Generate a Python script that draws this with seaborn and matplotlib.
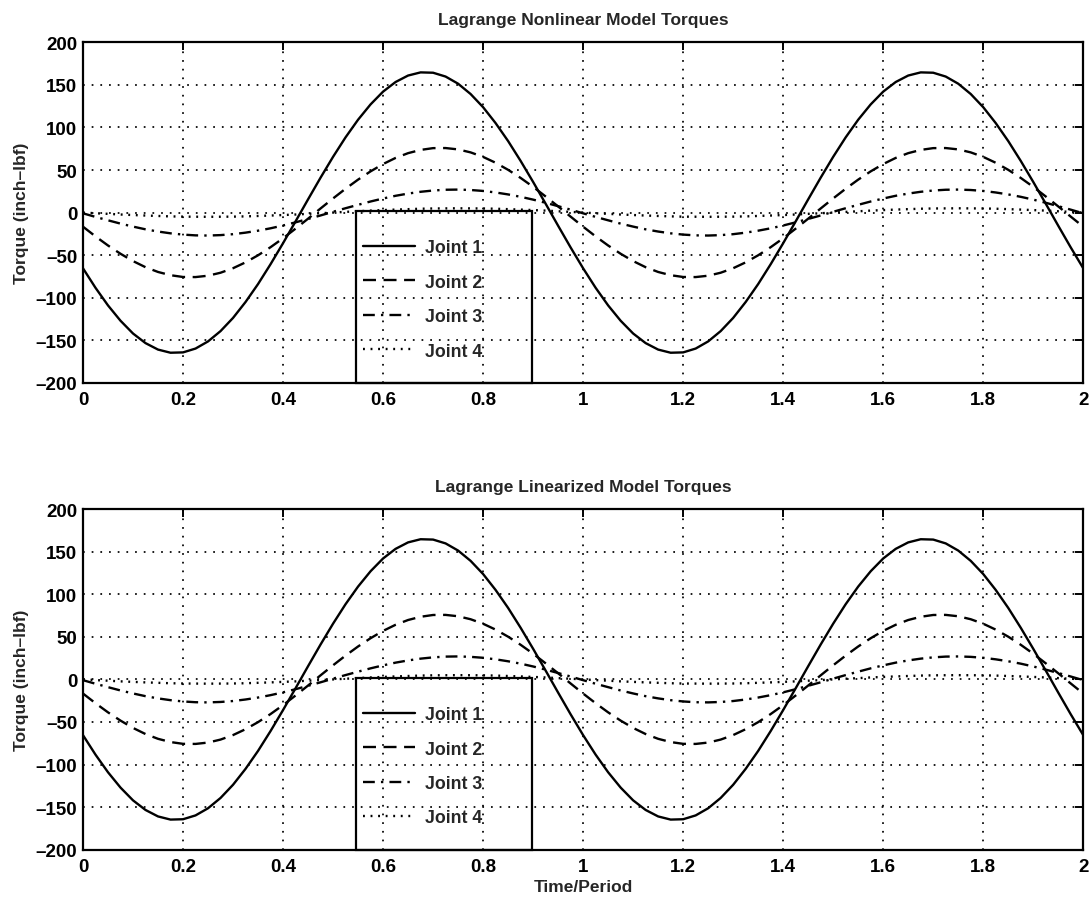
import matplotlib
matplotlib.use("Agg")
import matplotlib.pyplot as plt
import seaborn as sns
import pandas as pd
from matplotlib.patches import Rectangle

# ---- data ----
time = [0.000, 0.025, 0.050, 0.075, 0.100, 0.125, 0.150, 0.175, 0.200, 0.225,
        0.250, 0.275, 0.300, 0.325, 0.350, 0.375, 0.400, 0.425, 0.450, 0.475,
        0.500, 0.525, 0.550, 0.575, 0.600, 0.625, 0.650, 0.675, 0.700, 0.725,
        0.750, 0.775, 0.800, 0.825, 0.850, 0.875, 0.900, 0.925, 0.950, 0.975,
        1.000, 1.025, 1.050, 1.075, 1.100, 1.125, 1.150, 1.175, 1.200, 1.225,
        1.250, 1.275, 1.300, 1.325, 1.350, 1.375, 1.400, 1.425, 1.450, 1.475,
        1.500, 1.525, 1.550, 1.575, 1.600, 1.625, 1.650, 1.675, 1.700, 1.725,
        1.750, 1.775, 1.800, 1.825, 1.850, 1.875, 1.900, 1.925, 1.950, 1.975,
        2.000]

nl_joint1 = [-65.5, -88.4, -109.1, -127.1, -142.1, -153.4, -161.0, -164.7, -164.3, -159.8,
             -151.4, -139.3, -123.8, -105.1, -84.0, -60.7, -36.0, -10.4, 15.5, 41.0,
             65.5, 88.4, 109.1, 127.1, 142.1, 153.4, 161.0, 164.7, 164.3, 159.8,
             151.4, 139.3, 123.8, 105.1, 84.0, 60.7, 36.0, 10.4, -15.5, -41.0,
             -65.5, -88.4, -109.1, -127.1, -142.1, -153.4, -161.0, -164.7, -164.3, -159.8,
             -151.4, -139.3, -123.8, -105.1, -84.0, -60.7, -36.0, -10.4, 15.5, 41.0,
             65.5, 88.4, 109.1, 127.1, 142.1, 153.4, 161.0, 164.7, 164.3, 159.8,
             151.4, 139.3, 123.8, 105.1, 84.0, 60.7, 36.0, 10.4, -15.5, -41.0,
             -65.5]
nl_joint2 = [-16.6, -28.0, -38.7, -48.4, -57.0, -64.2, -69.8, -73.6, -75.7, -75.8,
             -74.2, -70.7, -65.4, -58.5, -50.2, -40.7, -30.2, -18.9, -7.2, 4.8,
             16.6, 28.0, 38.7, 48.4, 57.0, 64.2, 69.8, 73.6, 75.7, 75.8,
             74.2, 70.7, 65.4, 58.5, 50.2, 40.7, 30.2, 18.9, 7.2, -4.8,
             -16.6, -28.0, -38.7, -48.4, -57.0, -64.2, -69.8, -73.6, -75.7, -75.8,
             -74.2, -70.7, -65.4, -58.5, -50.2, -40.7, -30.2, -18.9, -7.2, 4.8,
             16.6, 28.0, 38.7, 48.4, 57.0, 64.2, 69.8, 73.6, 75.7, 75.8,
             74.2, 70.7, 65.4, 58.5, 50.2, 40.7, 30.2, 18.9, 7.2, -4.8,
             -16.6]
nl_joint3 = [-0.9, -5.1, -9.1, -13.0, -16.5, -19.7, -22.3, -24.4, -25.9, -26.8,
             -27.0, -26.5, -25.4, -23.6, -21.3, -18.5, -15.2, -11.5, -7.5, -3.4,
             0.9, 5.1, 9.1, 13.0, 16.5, 19.7, 22.3, 24.4, 25.9, 26.8,
             27.0, 26.5, 25.4, 23.6, 21.3, 18.5, 15.2, 11.5, 7.5, 3.4,
             -0.9, -5.1, -9.1, -13.0, -16.5, -19.7, -22.3, -24.4, -25.9, -26.8,
             -27.0, -26.5, -25.4, -23.6, -21.3, -18.5, -15.2, -11.5, -7.5, -3.4,
             0.9, 5.1, 9.1, 13.0, 16.5, 19.7, 22.3, 24.4, 25.9, 26.8,
             27.0, 26.5, 25.4, 23.6, 21.3, 18.5, 15.2, 11.5, 7.5, 3.4,
             -0.9]
nl_joint4 = [0.0, -0.8, -1.5, -2.3, -2.9, -3.5, -4.0, -4.5, -4.8, -4.9,
             -5.0, -4.9, -4.8, -4.5, -4.0, -3.5, -2.9, -2.3, -1.5, -0.8,
             0.0, 0.8, 1.5, 2.3, 2.9, 3.5, 4.0, 4.5, 4.8, 4.9,
             5.0, 4.9, 4.8, 4.5, 4.0, 3.5, 2.9, 2.3, 1.5, 0.8,
             0.0, -0.8, -1.5, -2.3, -2.9, -3.5, -4.0, -4.5, -4.8, -4.9,
             -5.0, -4.9, -4.8, -4.5, -4.0, -3.5, -2.9, -2.3, -1.5, -0.8,
             0.0, 0.8, 1.5, 2.3, 2.9, 3.5, 4.0, 4.5, 4.8, 4.9,
             5.0, 4.9, 4.8, 4.5, 4.0, 3.5, 2.9, 2.3, 1.5, 0.8,
             0.0]

# the linearized model reads the same as the nonlinear one in the reference
lin_joint1 = list(nl_joint1)
lin_joint2 = list(nl_joint2)
lin_joint3 = list(nl_joint3)
lin_joint4 = list(nl_joint4)

joint_labels = ["Joint 1", "Joint 2", "Joint 3", "Joint 4"]
titles = ["Lagrange Nonlinear Model Torques", "Lagrange Linearized Model Torques"]
ylabel = "Torque (inch\u2013lbf)"
xlabel = "Time/Period"
xticks = [0, 0.2, 0.4, 0.6, 0.8, 1, 1.2, 1.4, 1.6, 1.8, 2]
yticks = [-200, -150, -100, -50, 0, 50, 100, 150, 200]

# ---- styling ----
sns.set_style("white")
plt.rcParams['font.family'] = ['Liberation Sans', 'DejaVu Sans']
plt.rcParams['font.weight'] = 'bold'
plt.rcParams['axes.labelweight'] = 'bold'
plt.rcParams['axes.titleweight'] = 'bold'
FS = 12.5
TFS = 13.5

line_styles = ["-", (0, (5.5, 3.2)), (0, (5.0, 2.6, 1.0, 2.6)), (0, (0.8, 2.4))]

fig = plt.figure(figsize=(10.92, 9.03), dpi=100)
ax_top = fig.add_axes([0.076, 0.575, 0.916, 0.377])
ax_bot = fig.add_axes([0.076, 0.058, 0.916, 0.377])

datasets = [
    [nl_joint1, nl_joint2, nl_joint3, nl_joint4],
    [lin_joint1, lin_joint2, lin_joint3, lin_joint4],
]

for k, (ax, series) in enumerate(zip([ax_top, ax_bot], datasets)):
    for vals, lab, ls in zip(series, joint_labels, line_styles):
        df = pd.DataFrame({"t": time, "torque": vals})
        sns.lineplot(data=df, x="t", y="torque", ax=ax, color="black",
                     linewidth=1.7, linestyle=ls, label=lab, legend=False,
                     zorder=3)
    ax.set_xlim(0, 2)
    ax.set_ylim(-200, 200)
    ax.set_xticks(xticks)
    ax.set_xticklabels([f"{v:g}" for v in xticks])
    ax.set_yticks(yticks)
    ax.set_yticklabels([f"{v:g}".replace("-", "\u2013") for v in yticks])
    ax.tick_params(direction="in", length=6, width=1.4, top=True, right=True,
                   labelsize=TFS, colors="black")
    ax.tick_params(axis="x", pad=6)
    ax.tick_params(axis="y", pad=4)
    ax.grid(True, color="black", linestyle=(0, (1, 4)), linewidth=1.25)
    for sp in ax.spines.values():
        sp.set_visible(True)
        sp.set_color("black")
        sp.set_linewidth(1.6)
    ax.set_title(titles[k], fontsize=FS, fontweight="bold", pad=13)
    ax.set_ylabel(ylabel, fontsize=FS, fontweight="bold", labelpad=5)
    ax.set_xlabel("")

    # legend box (unfilled, as in the reference)
    box = Rectangle((0.545, -200), 0.352, 202, fill=False, edgecolor="black",
                    linewidth=1.6, zorder=5, clip_on=False)
    ax.add_patch(box)
    handles = ax.get_lines()[:4]
    ax.legend(handles, joint_labels, loc="center left",
              bbox_to_anchor=(0.56, -102), bbox_transform=ax.transData,
              frameon=False, handlelength=2.9, handletextpad=0.6,
              labelspacing=0.98, borderpad=0, borderaxespad=0,
              prop={"size": FS + 0.3, "weight": "bold"})

ax_bot.set_xlabel(xlabel, fontsize=FS, fontweight="bold", labelpad=3)

fig.savefig("out.png", dpi=100, facecolor="white")
